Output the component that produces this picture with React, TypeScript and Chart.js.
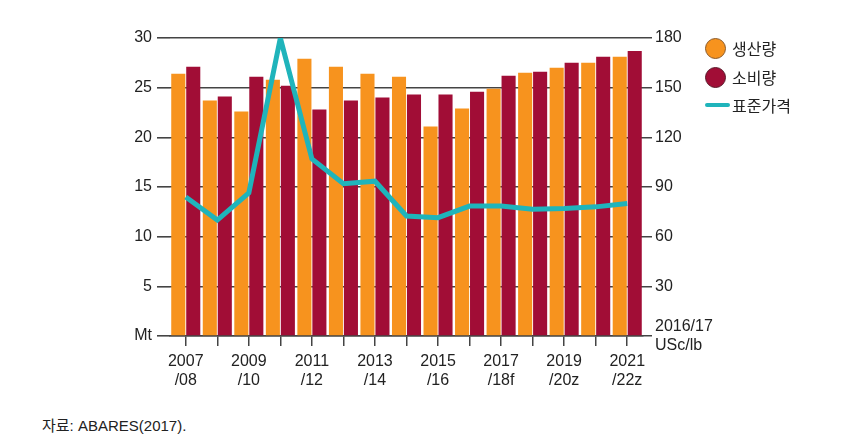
import React, { useEffect, useRef } from "react";
import { Chart, registerables } from "chart.js";

Chart.register(...registerables);

const categories = [
  "2007/08", "2008/09", "2009/10", "2010/11", "2011/12", "2012/13", "2013/14",
  "2014/15", "2015/16", "2016/17", "2017/18f", "2018/19z", "2019/20z", "2020/21z", "2021/22z",
];
const production = [26.4, 23.7, 22.6, 25.8, 27.9, 27.1, 26.4, 26.1, 21.1, 22.9, 24.9, 26.5, 27.0, 27.5, 28.1];
const consumption = [27.1, 24.1, 26.1, 25.2, 22.8, 23.7, 24.0, 24.3, 24.3, 24.6, 26.2, 26.6, 27.5, 28.1, 28.7];
const price = [84, 70, 86.5, 180, 107, 92, 93.5, 72.5, 71.5, 78.5, 78.5, 76.5, 77, 78, 80];

const legendLabels = ["생산량", "소비량", "표준가격"];
const sourceText = "자료: ABARES(2017).";

const ORANGE = "#F7931E";
const RED = "#A10D36";
const TEAL = "#1FB4BB";
const GRID = "#444444";
const FONT = "'Liberation Sans', Arial, 'Noto Sans CJK KR', sans-serif";

export default function App() {
  const ref = useRef<HTMLCanvasElement | null>(null);

  useEffect(() => {
    if (!ref.current) return;
    const chart = new Chart(ref.current, {
      type: "bar",
      data: {
        labels: categories,
        datasets: [
          {
            type: "line",
            label: legendLabels[2],
            data: price,
            yAxisID: "y2",
            borderColor: TEAL,
            borderWidth: 5,
            pointRadius: 0,
            tension: 0,
            borderJoinStyle: "miter",
            order: 0,
          } as any,
          {
            label: legendLabels[0],
            data: production,
            backgroundColor: ORANGE,
            yAxisID: "y",
            categoryPercentage: 0.95,
            barPercentage: 0.94,
            order: 1,
          },
          {
            label: legendLabels[1],
            data: consumption,
            backgroundColor: RED,
            yAxisID: "y",
            categoryPercentage: 0.95,
            barPercentage: 0.94,
            order: 1,
          },
        ],
      },
      options: {
        responsive: false,
        animation: false,
        devicePixelRatio: 1,
        layout: { padding: { top: 38, left: 0, right: 0, bottom: 0 } },
        plugins: { legend: { display: false }, tooltip: { enabled: false } },
        scales: {
          x: {
            afterFit: (s: any) => { s.height = 64; },
            grid: {
              offset: false,
              drawOnChartArea: false,
              tickLength: 10,
              color: GRID,
              lineWidth: 1.5,
            },
            border: { display: true, color: GRID, width: 1.5 },
            ticks: {
              autoSkip: false,
              maxRotation: 0,
              padding: 6,
              color: "#222",
              font: { family: FONT, size: 16 },
              callback: (_v: any, i: number) => {
                if (i % 2 !== 0) return "";
                const c = categories[i];
                const k = c.indexOf("/");
                return [c.slice(0, k), c.slice(k)];
              },
            },
          },
          y: {
            position: "left",
            min: 0,
            max: 30,
            afterFit: (s: any) => { s.width = 170; },
            grid: { color: GRID, lineWidth: 1.6, tickLength: 13 },
            border: { display: false },
            ticks: {
              stepSize: 5,
              padding: 5,
              color: "#222",
              font: { family: FONT, size: 16 },
              callback: (v: any) => (v === 0 ? "Mt" : String(v)),
            },
          },
          y2: {
            position: "right",
            min: 0,
            max: 180,
            afterFit: (s: any) => { s.width = 225; },
            grid: { drawOnChartArea: false, color: GRID, lineWidth: 1.5, tickLength: 9 },
            border: { display: false },
            ticks: {
              stepSize: 30,
              padding: 3,
              color: "#222",
              font: { family: FONT, size: 16 },
              callback: (v: any) => (v === 0 ? ["2016/17", "USc/lb"] : String(v)),
            },
          },
        },
      },
    });
    return () => chart.destroy();
  }, []);

  const legendItem = (top: number, swatch: React.ReactNode, text: string) => (
    <div style={{ position: "absolute", left: 705, top: top - 12, height: 24, display: "flex", alignItems: "center" }}>
      <div style={{ width: 26, display: "flex", alignItems: "center" }}>{swatch}</div>
      <span style={{ fontFamily: FONT, fontSize: 16, color: "#222", marginLeft: 1 }}>{text}</span>
    </div>
  );

  return (
    <div style={{ position: "absolute", left: 0, top: 0, width: 868, height: 445, background: "#fff", overflow: "hidden" }}>
      <canvas ref={ref} width={868} height={400} style={{ position: "absolute", left: 0, top: 0, width: 868, height: 400 }} />
      {legendItem(48, <div style={{ width: 21, height: 21, borderRadius: "50%", background: ORANGE, border: "1.5px solid #8a5a2a", boxSizing: "border-box" }} />, legendLabels[0])}
      {legendItem(77, <div style={{ width: 21, height: 21, borderRadius: "50%", background: RED, border: "1.5px solid #5a1a2a", boxSizing: "border-box" }} />, legendLabels[1])}
      {legendItem(105, <div style={{ width: 25, height: 4, borderRadius: 2, background: TEAL }} />, legendLabels[2])}
      <div style={{ position: "absolute", left: 42, top: 414, fontFamily: FONT, fontSize: 15, color: "#222", whiteSpace: "nowrap" }}>{sourceText}</div>
    </div>
  );
}
